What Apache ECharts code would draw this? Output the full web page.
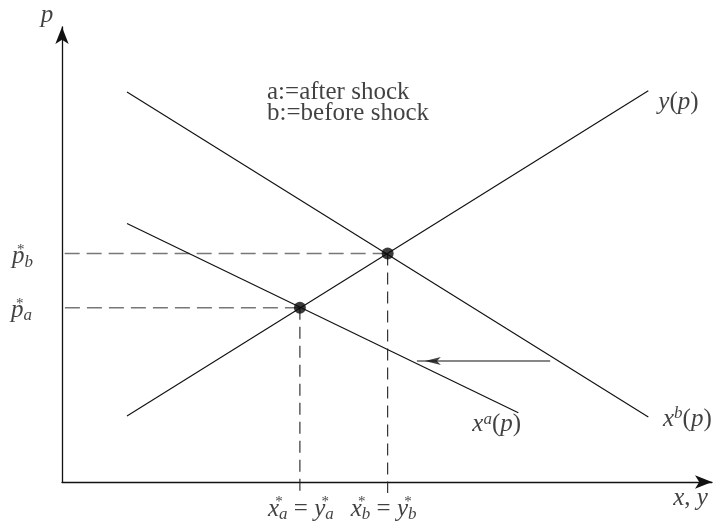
<!DOCTYPE html>
<html>
<head>
<meta charset="utf-8">
<script src="https://cdn.jsdelivr.net/npm/echarts@6/dist/echarts.min.js"></script>
<style>
html, body { margin: 0; padding: 0; background: #fff; }
#chart { width: 715px; height: 521px; }
</style>
</head>
<body>
<div id="chart"></div>
<script>
// 曲线端点 [x, p]
const supply = [[10, 14.5], [90.2, 86]];
const demandBefore = [[10, 85.7], [90.2, 14.3]];
const demandAfter = [[10, 56.8], [70.2, 15.2]];
// 均衡点 a: after shock, b: before shock
const eqA = [36.6, 38.3];
const eqB = [50.1, 50.2];
// 需求曲线左移的箭头 (尾 -> 头)
const shiftArrow = [[75.1, 26.6], [54.6, 26.6]];
const axisMax = [100, 100];

const ink = '#111111';
const serif = "'Liberation Serif', 'DejaVu Serif', serif";

// 公式用的富文本样式
const rich = {
  v: { fontFamily: serif, fontStyle: 'italic', fontSize: 25, lineHeight: 28, color: ink },
  r: { fontFamily: serif, fontSize: 25, lineHeight: 28, color: ink },
  st: { fontFamily: serif, fontSize: 15, lineHeight: 18, verticalAlign: 'top', width: 0, color: ink },
  sb: { fontFamily: serif, fontStyle: 'italic', fontSize: 17, lineHeight: 14, verticalAlign: 'bottom', color: ink },
  sp: { fontFamily: serif, fontStyle: 'italic', fontSize: 17, lineHeight: 17, verticalAlign: 'top', color: ink }
};

const curve = (data) => ({
  type: 'line', data: data, symbol: 'none', clip: false, silent: true,
  lineStyle: { color: ink, width: 1.15 }
});

const dashed = (data, color, dash, width) => ({
  type: 'line', data: data, symbol: 'none', clip: false, silent: true,
  lineStyle: { color: color, width: width, type: dash }
});

// 虚线：从均衡点画到两个坐标轴
const hGuide = (pt) => [[pt[0], pt[1]], [-2, pt[1]]];
const vGuide = (pt) => [[pt[0], pt[1]], [pt[0], -2.4]];

const note = (value, text, align, offset) => ({
  value: value,
  label: { show: true, position: 'inside', align: align, offset: offset, formatter: text, rich: rich }
});

const notes = [
  note([0, axisMax[1]], '{v|p}', 'center', [-15, -11.5]),
  note([axisMax[0], 0], '{v|x}{r|, }{v|y}', 'center', [-21.5, 16.5]),
  note(supply[1], '{v|y}{r|(}{v|p}{r|)}', 'left', [10, 11.5]),
  note(demandBefore[1], '{v|x}{sp|b}{r|(}{v|p}{r|)}', 'left', [14.7, 2.5]),
  note(demandAfter[1], '{v|x}{sp|a}{r|(}{v|p}{r|)}', 'left', [-46, 12]),
  note([0, eqB[1]], '{v|p}{st|*}{sb|b}', 'right', [-29, 3]),
  note([0, eqA[1]], '{v|p}{st|*}{sb|a}', 'right', [-30, 2.5]),
  note([eqA[0], 0], '{v|x}{st|*}{sb|a}{r| = }{v|y}{st|*}{sb|a}', 'center', [1, 27]),
  note([eqB[0], 0], '{v|x}{st|*}{sb|b}{r| = }{v|y}{st|*}{sb|b}', 'center', [-4, 27]),
  {
    value: [31.54, 83.4],
    label: {
      show: true, position: 'inside', align: 'left', formatter: 'a:=after shock\nb:=before shock',
      fontFamily: serif, fontSize: 25, lineHeight: 21, color: ink
    }
  }
];

const axisCommon = {
  type: 'value', min: 0,
  axisLine: {
    show: true, onZero: true, symbol: ['none', 'arrow'], symbolSize: [10, 17],
    lineStyle: { color: ink, width: 1.3 }
  },
  axisTick: { show: false },
  axisLabel: { show: false },
  splitLine: { show: false }
};

const chart = echarts.init(document.getElementById('chart'));
chart.setOption({
  animation: false,
  backgroundColor: '#ffffff',
  grid: { left: 62, right: 3, top: 27, bottom: 39, outerBoundsMode: 'none' },
  xAxis: Object.assign({}, axisCommon, { max: axisMax[0] }),
  yAxis: Object.assign({}, axisCommon, { max: axisMax[1] }),
  series: [
    dashed(hGuide(eqB), '#777', [15, 7], 1.5),
    dashed(hGuide(eqA), '#777', [15, 7], 1.5),
    dashed(vGuide(eqB), '#222', [12, 7], 1.1),
    dashed(vGuide(eqA), '#222', [12, 7], 1.1),
    curve(supply),
    curve(demandBefore),
    curve(demandAfter),
    curve(shiftArrow),
    {
      type: 'scatter', data: [shiftArrow[1]], symbol: 'arrow', symbolSize: [6, 16],
      symbolRotate: 90, symbolOffset: [8, 0], clip: false, silent: true,
      itemStyle: { color: ink }
    },
    {
      type: 'scatter', data: [eqA, eqB], symbolSize: 12, clip: false, silent: true,
      itemStyle: { color: '#0a0a0a' }, z: 5
    },
    {
      type: 'scatter', data: notes, symbolSize: 0, clip: false, silent: true, z: 6
    }
  ]
});
</script>
</body>
</html>
